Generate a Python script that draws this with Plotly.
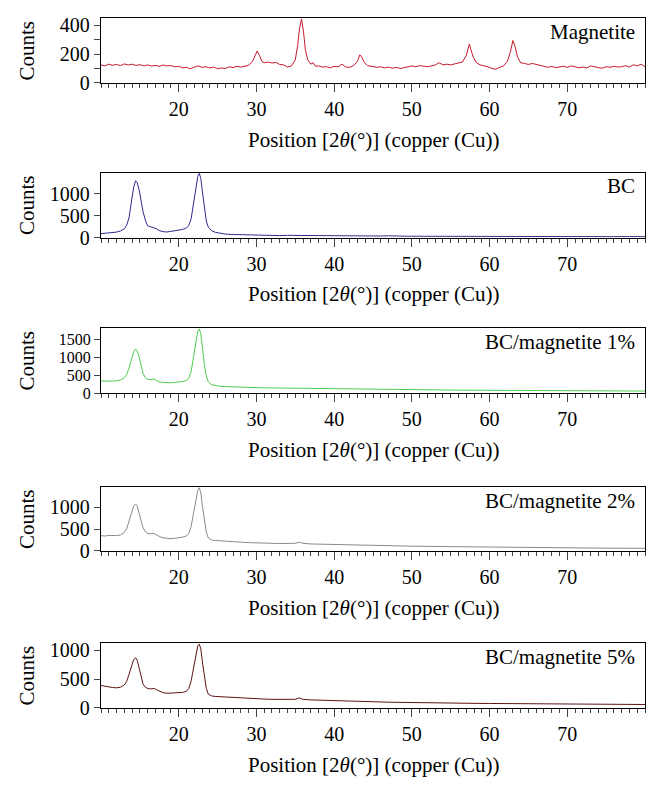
import plotly.graph_objects as go

# ---------------- data ----------------
mag_x = [10, 10.5, 11, 11.5, 12, 12.5, 13, 13.5, 14, 14.5, 15, 15.5, 16, 16.5, 17, 17.5, 18, 18.5, 19, 19.5,
         20, 20.5, 21, 21.5, 22, 22.5, 23, 23.5, 24, 24.5, 25, 25.5, 26, 26.5, 27, 27.5, 28, 28.5, 29, 29.5,
         29.8, 30.1, 30.4, 30.7, 31, 31.5, 32, 32.5, 33, 33.5, 34, 34.5, 35, 35.3, 35.55, 35.8, 36.05, 36.3, 36.6, 37,
         37.3, 37.6, 38, 38.5, 39, 39.5, 40, 40.5, 41, 41.5, 42, 42.5, 43, 43.3, 43.55, 43.9, 44.3, 45, 45.5, 46,
         46.5, 47, 47.5, 48, 48.5, 49, 49.5, 50, 50.5, 51, 51.5, 52, 52.5, 53, 53.5, 54, 54.5, 55, 55.5, 56,
         56.5, 57, 57.2, 57.4, 57.6, 57.9, 58.3, 58.8, 59.3, 59.8, 60.3, 60.8, 61.3, 61.8, 62.3, 62.7, 63.0, 63.3, 63.6, 64,
         64.5, 65, 65.5, 66, 66.5, 67, 67.5, 68, 68.5, 69, 69.5, 70, 70.5, 71, 71.5, 72, 72.5, 73, 73.5, 74,
         74.5, 75, 75.5, 76, 76.5, 77, 77.5, 78, 78.5, 79, 79.5, 80]
mag_y = [125, 118, 130, 122, 128, 120, 132, 124, 130, 121, 127, 118, 125, 117, 122, 115, 124, 118, 120, 112,
         115, 105, 108, 98, 110, 118, 108, 112, 104, 110, 98, 104, 100, 112, 106, 115, 110, 118, 122, 150,
         185, 222, 190, 150, 140, 145, 138, 142, 128, 125, 110, 118, 160, 260, 380, 445, 360, 230, 160, 130,
         140, 115, 118, 110, 112, 105, 115, 112, 130, 110, 108, 120, 150, 195, 180, 140, 120, 112, 108, 112,
         104, 110, 102, 108, 100, 106, 110, 118, 112, 120, 116, 112, 118, 124, 140, 125, 130, 125, 132, 138,
         145, 190, 240, 270, 230, 180, 140, 125, 118, 112, 100, 95, 108, 118, 150, 220, 295, 250, 180, 140,
         135, 128, 135, 130, 120, 115, 108, 115, 105, 110, 116, 108, 118, 112, 105, 110, 104, 118, 110, 106,
         102, 112, 108, 115, 110, 112, 120, 110, 126, 118, 130, 112]

comp_x = [10, 10.5, 11, 11.5, 12, 12.5, 13, 13.3, 13.6, 13.9, 14.2, 14.45, 14.65, 14.9, 15.15, 15.4, 15.7, 16.0, 16.4, 16.8,
          17.1, 17.5, 18, 18.5, 19, 19.5, 20, 20.5, 21, 21.3, 21.6, 21.9, 22.2, 22.45, 22.65, 22.85, 23.05, 23.3, 23.55, 23.8,
          24.2, 24.7, 25.3, 26, 27, 28, 29, 30, 31, 32, 33, 34, 35, 35.5, 36, 37, 38, 39, 40, 41,
          42, 43, 44, 45, 46, 47, 48, 49, 50, 52, 54, 56, 58, 60, 62, 64, 66, 68, 70, 72,
          74, 76, 78, 80]
bc_y = [90, 95, 102, 110, 125, 150, 200, 280, 450, 800, 1150, 1300, 1260, 1100, 850, 600, 400, 270, 245, 232,
        205, 160, 135, 128, 140, 150, 165, 185, 220, 280, 430, 750, 1150, 1400, 1470, 1350, 1050, 650, 380, 240,
        160, 120, 95, 80, 70, 65, 55, 55, 50, 45, 45, 50, 48, 55, 52, 45, 40, 42, 40, 38,
        40, 35, 38, 32, 35, 40, 30, 32, 30, 28, 30, 25, 28, 25, 22, 24, 22, 20, 22, 20,
        22, 20, 22, 20]
m1_y = [340, 335, 330, 335, 345, 370, 430, 520, 700, 950, 1150, 1230, 1190, 1020, 780, 560, 430, 385, 380, 395,
        360, 320, 300, 290, 290, 300, 305, 325, 355, 420, 600, 950, 1400, 1720, 1790, 1650, 1250, 800, 480, 320,
        240, 210, 195, 185, 175, 170, 160, 155, 150, 148, 145, 140, 140, 142, 135, 130, 125, 120, 118, 115,
        112, 110, 108, 105, 105, 102, 100, 98, 95, 92, 90, 86, 84, 80, 78, 76, 74, 72, 70, 68,
        66, 65, 63, 60]
m2_y = [350, 340, 355, 345, 350, 365, 420, 500, 650, 850, 1020, 1070, 1030, 880, 690, 530, 440, 400, 390, 400,
        370, 330, 300, 285, 280, 290, 300, 315, 340, 400, 560, 850, 1200, 1380, 1440, 1320, 1020, 680, 430, 300,
        250, 240, 230, 220, 210, 200, 190, 180, 178, 175, 170, 168, 175, 200, 175, 160, 155, 150, 148, 140,
        135, 135, 130, 125, 122, 118, 115, 112, 110, 105, 100, 95, 90, 85, 82, 80, 76, 72, 70, 68,
        66, 64, 62, 60]
m5_y = [390, 375, 365, 355, 350, 360, 400, 460, 580, 730, 840, 870, 830, 700, 540, 420, 360, 340, 330, 340,
        320, 290, 265, 255, 258, 262, 262, 270, 290, 340, 470, 700, 950, 1080, 1110, 1020, 800, 530, 340, 240,
        210, 200, 195, 185, 175, 170, 165, 160, 155, 150, 148, 145, 150, 175, 150, 140, 135, 130, 128, 120,
        118, 115, 110, 108, 105, 100, 98, 95, 92, 88, 85, 82, 80, 78, 76, 75, 72, 70, 68, 66,
        65, 63, 62, 60]

labels = ["Magnetite", "BC", "BC/magnetite 1%", "BC/magnetite 2%", "BC/magnetite 5%"]
xs = [mag_x, comp_x, comp_x, comp_x, comp_x]
ys = [mag_y, bc_y, m1_y, m2_y, m5_y]
y_max = [450, 1490, 1820, 1450, 1130]
y_ticks = [[0, 200, 400], [0, 500, 1000], [0, 500, 1000, 1500], [0, 500, 1000], [0, 500, 1000]]
y_minor = [100, None, None, None, None]
x_ticks = [20, 30, 40, 50, 60, 70]
colors = ["#c41a2a", "#2c2c8a", "#4ccc4c", "#8a8a8a", "#5e1414"]

# ---------------- layout geometry (pixels) ----------------
W, H = 660, 791
L, R = 101, 645
panels_px = [(15.7, 80.7), (170.7, 236.0), (326.7, 392.3), (486.7, 550.7), (643.0, 708.3)]
FONT = "Liberation Serif"
FS = 21
YTICK_FS = [20, 20, 16, 20, 20]


def py(px):
    """target pixel row -> paper fraction (compensates for the observed vertical rendering scale)"""
    return 1 - ((px - 1.5) / 0.985) / H


fig = go.Figure()
layout = dict(width=W, height=H, margin=dict(l=0, r=0, t=0, b=0), autosize=False,
              paper_bgcolor="white", plot_bgcolor="white", showlegend=False,
              font=dict(family=FONT, size=FS, color="black"))
annotations = []
for i in range(5):
    n = "" if i == 0 else str(i + 1)
    top, bot = panels_px[i]
    fig.add_trace(go.Scatter(x=xs[i], y=ys[i], mode="lines",
                             line=dict(color=colors[i], width=1),
                             xaxis="x" + n, yaxis="y" + n, name=labels[i]))
    layout["xaxis" + n] = dict(domain=[L / W, R / W], range=[10, 80], anchor="y" + n,
                              tickvals=x_ticks, ticks="outside", ticklen=8, tickwidth=1.2,
                              showgrid=False, zeroline=False, showline=True, linecolor="black",
                              linewidth=1.3, mirror=True,
                              minor=dict(dtick=1, tick0=0, ticks="outside", ticklen=4,
                                         tickwidth=1, showgrid=False),
                              tickfont=dict(family=FONT, size=20))
    ydict = dict(domain=[py(bot), py(top)], range=[0, y_max[i]], anchor="x" + n,
                 tickvals=y_ticks[i], ticks="outside", ticklen=6, tickwidth=1.2,
                 showgrid=False, zeroline=False, showline=True, linecolor="black",
                 linewidth=1.3, mirror=True, tickfont=dict(family=FONT, size=YTICK_FS[i]))
    if y_minor[i]:
        ydict["minor"] = dict(dtick=y_minor[i] * 2, tick0=y_minor[i], ticks="outside",
                              ticklen=6, tickwidth=1.2, showgrid=False)
    layout["yaxis" + n] = ydict
    annotations.append(dict(text="Position [2<i>θ</i>(°)] (copper (Cu))",
                            x=(L + R) / 2 / W, y=py(bot + 57), xref="paper", yref="paper",
                            xanchor="center", yanchor="middle", showarrow=False,
                            font=dict(family=FONT, size=FS)))
    annotations.append(dict(text="Counts", textangle=-90,
                            x=27 / W, y=py((top + bot) / 2), xref="paper", yref="paper",
                            xanchor="center", yanchor="middle", showarrow=False,
                            font=dict(family=FONT, size=FS)))
    annotations.append(dict(text=labels[i], x=(R - 8) / W, y=py(top + 14), 
                            xref="paper", yref="paper", xanchor="right", yanchor="middle",
                            showarrow=False, font=dict(family=FONT, size=FS)))
layout["annotations"] = annotations
fig.update_layout(**layout)
fig.write_html("out.html", config={"responsive": False, "displayModeBar": False},
               post_script="document.body.style.margin='0';document.body.style.overflow='hidden';")
